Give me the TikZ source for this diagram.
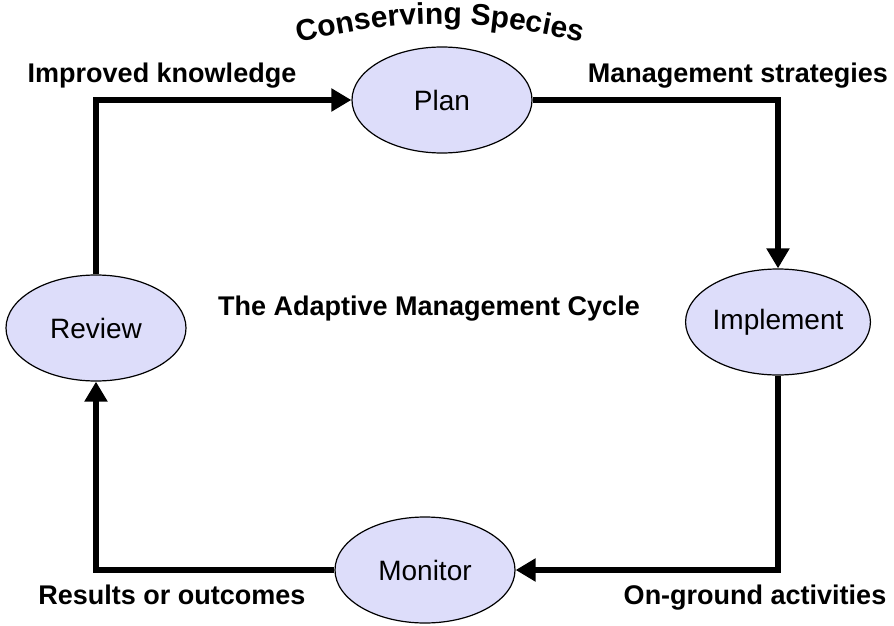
\documentclass[tikz,border=0pt]{standalone}
\usepackage{fontspec}
\setmainfont{Liberation Sans}
\usetikzlibrary{shapes.geometric,arrows.meta,decorations.text}
\definecolor{stagefill}{RGB}{221,221,250}
\begin{document}
\begin{tikzpicture}[x=0.5pt,y=-0.5pt,
    stage/.style={ellipse,draw=black,line width=0.6pt,fill=stagefill,
      minimum width=90pt,minimum height=53pt,inner sep=0pt,
      font=\fontsize{14}{16}\selectfont},
    flow/.style={line width=3.3pt,-{Triangle[length=10pt,width=11pt]}},
    caption/.style={anchor=base,inner sep=0pt,
      font=\fontsize{13.5}{16}\selectfont\bfseries}]

    \useasboundingbox (0,0) rectangle (894,626);

    \node[stage] (Plan)      at (442,100) {Plan};
    \node[stage] (Implement) at (778,322) {Implement};
    \node[stage] (Monitor)   at (425,570) {Monitor};
    \node[stage] (Review)    at (96,328)  {Review};

    \node[caption] (ImprKnow) at (162,83)  {Improved knowledge};
    \node[caption] (MgmtStrat) at (738,83) {Management strategies};
    \node[caption] (OnGround) at (755,604) {On-ground activities};
    \node[caption] (Results)  at (172,604) {Results or outcomes};
    \node[caption] (CycleTitle) at (429,315) {The Adaptive Management Cycle};

    % arched title
    \path[decorate,decoration={text along path,text align=center,
      text={|\fontsize{15}{17}\selectfont\bfseries|Conserving Species}}]
      (288,45) .. controls (400,17) and (480,17) .. (592,45);

    \draw[flow] (Plan.east)      -| (Implement.north);
    \draw[flow] (Implement.south) |- (Monitor.east);
    \draw[flow] (Monitor.west)   -| (Review.south);
    \draw[flow] (Review.north)   |- (Plan.west);
  \end{tikzpicture}
\end{document}
